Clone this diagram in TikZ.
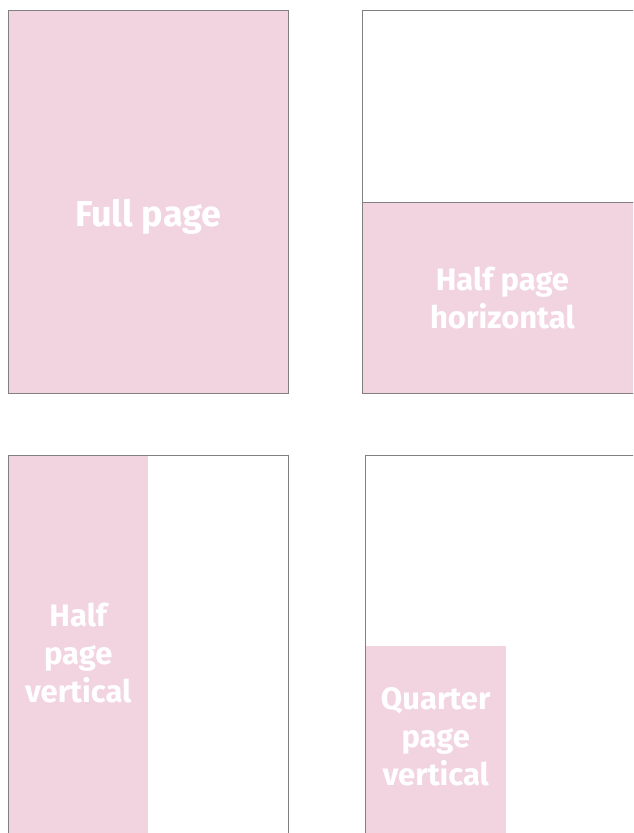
\documentclass[tikz,border=0pt]{standalone}
\usepackage{fontspec}
\setmainfont{Fira Sans}
\usetikzlibrary{positioning}
\definecolor{adpink}{RGB}{242,212,225}
\definecolor{pageline}{RGB}{128,128,128}

\begin{document}
\begin{tikzpicture}[x=1pt, y=-1pt,
  page/.style={draw=pageline, line width=0.8pt, anchor=north west, inner sep=0,
               minimum width=280pt, minimum height=383pt},
  adblock/.style={fill=adpink, anchor=north west, inner sep=0},
  adlabel/.style={text=white, align=center,
                  font=\bfseries\fontsize{31}{38}\selectfont}
]
\clip (0,0) rectangle (633,833);

% --- Ad blocks ---
\node[adblock, minimum width=280pt, minimum height=383pt] (fullad)  at (8,10)    {};
\node[adblock, draw=pageline, line width=0.8pt,
      minimum width=280pt, minimum height=191pt]           (halfhad) at (362,202) {};
\node[adblock, minimum width=140pt, minimum height=383pt] (halfvad) at (8,455)   {};
\node[adblock, minimum width=141pt, minimum height=192pt] (quartad) at (365,646) {};

% --- Page outlines ---
\node[page] (fullpg)  at (8,10)   {};
\node[page] (halfhpg) at (362,10) {};
\node[page] (halfvpg) at (8,455)  {};
\node[page] (quartpg) at (365,455) {};

% --- Labels ---
\node[adlabel, font=\bfseries\fontsize{36}{44}\selectfont, yshift=-15pt]
  (fulltxt) at (fullad.center) {Full page};
\node[adlabel] (halfhtxt) at (halfhad.center) {Half page\\horizontal};
\node[adlabel, yshift=-6pt] (halfvtxt) at (halfvad.center) {Half\\page\\vertical};
\node[adlabel, yshift=5pt] (quarttxt) at (quartad.center) {Quarter\\page\\vertical};

\end{tikzpicture}
\end{document}
